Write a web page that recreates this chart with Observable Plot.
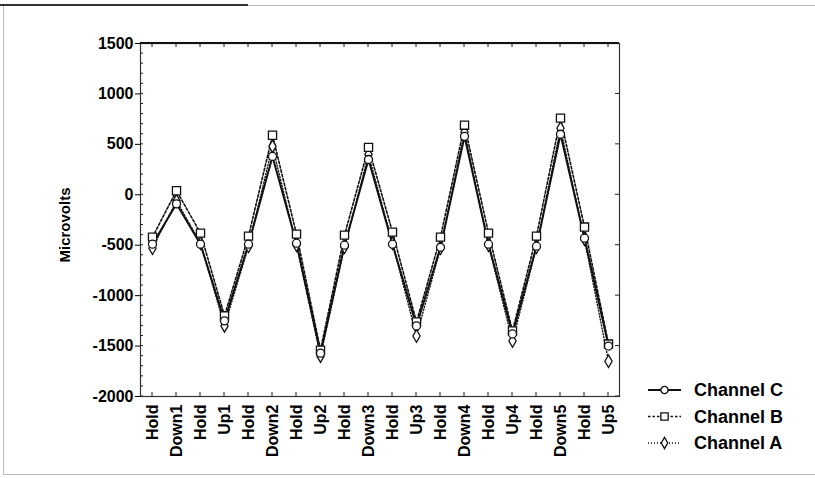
<!DOCTYPE html>
<html>
<head>
<meta charset="utf-8">
<script src="https://cdn.jsdelivr.net/npm/d3@7"></script>
<script src="https://cdn.jsdelivr.net/npm/@observablehq/plot@0.6"></script>
<style>
  html, body { margin: 0; padding: 0; background: #fff; }
  #wrap { position: relative; width: 815px; height: 478px; overflow: hidden; font-family: "Liberation Sans", Arial, sans-serif; }
  #border { position: absolute; left: 3px; top: 5px; width: 830px; height: 470px; border: 1px solid #bbb; box-sizing: border-box; }
  #topdark { position: absolute; left: 0px; top: 4px; width: 248px; height: 2px; background: #333; }
  #chart { position: absolute; left: 0; top: 0; }
  #legend { position: absolute; left: 0; top: 0; }
</style>
</head>
<body>
<div id="wrap">
  <div id="border"></div>
  <div id="topdark"></div>
  <div id="chart"></div>
  <svg id="legend" width="815" height="478"></svg>
</div>
<script>
const categories = ["Hold","Down1","Hold","Up1","Hold","Down2","Hold","Up2","Hold","Down3","Hold","Up3","Hold","Down4","Hold","Up4","Hold","Down5","Hold","Up5"];
const channelC = [-490, -90, -490, -1250, -490, 380, -480, -1570, -500, 350, -490, -1300, -520, 580, -490, -1380, -510, 600, -430, -1500];
const channelB = [-420, 40, -380, -1200, -410, 590, -390, -1540, -400, 470, -370, -1260, -420, 690, -380, -1350, -410, 760, -320, -1480];
const channelA = [-530, -60, -480, -1300, -510, 480, -500, -1600, -520, 400, -480, -1400, -530, 620, -500, -1450, -520, 660, -440, -1650];
const yTicks = [-2000, -1500, -1000, -500, 0, 500, 1000, 1500];
const seriesNames = ["Channel C", "Channel B", "Channel A"];
const yLabel = "Microvolts";

const styles = {
  "Channel C": {dash: null, width: 2, symbol: "circle", r: 4},
  "Channel B": {dash: "2.5,2", width: 1.6, symbol: "square", r: 4.6},
  "Channel A": {dash: "1,2", width: 1.4, symbol: "diamond", r: 3.8}
};
const seriesValues = {"Channel C": channelC, "Channel B": channelB, "Channel A": channelA};
const rows = seriesNames.flatMap(name => seriesValues[name].map((v, i) => ({i, value: v, channel: name})));

const font = '"Liberation Sans", Arial, sans-serif';

const ticksMark = (index, scales, values, dims) => {
  const g = d3.create("svg:g").attr("stroke", "#222").attr("fill", "none");
  const x0 = dims.marginLeft, x1 = dims.width - dims.marginRight;
  const y0 = dims.marginTop, y1 = dims.height - dims.marginBottom;
  for (let v = -2000; v <= 1500; v += 100) {
    const y = scales.y(v);
    g.append("line").attr("x1", x0).attr("x2", x0 + 3).attr("y1", y).attr("y2", y).attr("stroke-width", 1);
  }
  for (const v of yTicks) {
    const y = scales.y(v);
    g.append("line").attr("x1", x1).attr("x2", x1 - 4).attr("y1", y).attr("y2", y).attr("stroke-width", 1);
  }
  categories.forEach((c, i) => {
    const x = scales.x(i);
    g.append("line").attr("x1", x).attr("x2", x).attr("y1", y0).attr("y2", y0 + 4).attr("stroke-width", 1);
    g.append("line").attr("x1", x).attr("x2", x).attr("y1", y1).attr("y2", y1 - 4).attr("stroke-width", 1);
  });
  g.append("line").attr("x1", x0).attr("x2", x1).attr("y1", y0).attr("y2", y0).attr("stroke-width", 2.2).attr("stroke", "#111");
  g.append("text").attr("transform", "translate(70,225) rotate(-90)").attr("text-anchor", "middle")
    .attr("stroke", "none").attr("fill", "#000").attr("font-family", font).attr("font-size", 15).attr("font-weight", "bold")
    .text(yLabel);
  return g.node();
};

const marks = [
  Plot.frame({stroke: "#333", strokeWidth: 1.2}),
  ticksMark,
  Plot.axisY({ticks: yTicks, tickSize: 5, tickPadding: 2, fontSize: 16, fontWeight: "bold", tickFormat: d => String(d), label: null}),
  Plot.axisX({ticks: d3.range(categories.length), tickSize: 0, tickPadding: 8, tickRotate: -90, fontSize: 16, fontWeight: "bold",
    tickFormat: i => categories[i], label: null}),
];
for (const name of seriesNames) {
  const s = styles[name];
  marks.push(Plot.line(rows.filter(d => d.channel === name), {
    x: "i", y: "value", stroke: "#111", strokeWidth: s.width, strokeDasharray: s.dash
  }));
}
for (const name of [...seriesNames].reverse()) {
  const s = styles[name];
  marks.push(Plot.dot(rows.filter(d => d.channel === name), {
    x: "i", y: "value", symbol: s.symbol, r: s.r, fill: "white", stroke: "#111", strokeWidth: 1.3
  }));
}

const chart = Plot.plot({
  width: 815, height: 478,
  marginLeft: 140, marginRight: 196, marginTop: 43, marginBottom: 82,
  style: {fontFamily: font, fontSize: "16px", color: "#000", background: "transparent"},
  x: {type: "point", domain: d3.range(categories.length), padding: 0.44},
  y: {domain: [-2000, 1500]},
  marks
});
document.getElementById("chart").appendChild(chart);

const lg = d3.select("#legend");
const symbolPaths = {circle: d3.symbolCircle, square: d3.symbolSquare, diamond: d3.symbolDiamond};
seriesNames.forEach((name, k) => {
  const s = styles[name];
  const y = 390 + k * 26.5;
  lg.append("line").attr("x1", 648).attr("x2", 681).attr("y1", y).attr("y2", y)
    .attr("stroke", "#111").attr("stroke-width", s.width).attr("stroke-dasharray", s.dash);
  lg.append("path").attr("d", d3.symbol(symbolPaths[s.symbol], Math.PI * s.r * s.r * 0.8)())
    .attr("transform", `translate(664.5,${y})`).attr("fill", "white").attr("stroke", "#111").attr("stroke-width", 1.3);
  lg.append("text").attr("x", 694).attr("y", y).attr("dy", "0.36em").attr("font-family", font)
    .attr("font-size", 18).attr("font-weight", "bold").attr("fill", "#000").text(name);
});
</script>
</body>
</html>
